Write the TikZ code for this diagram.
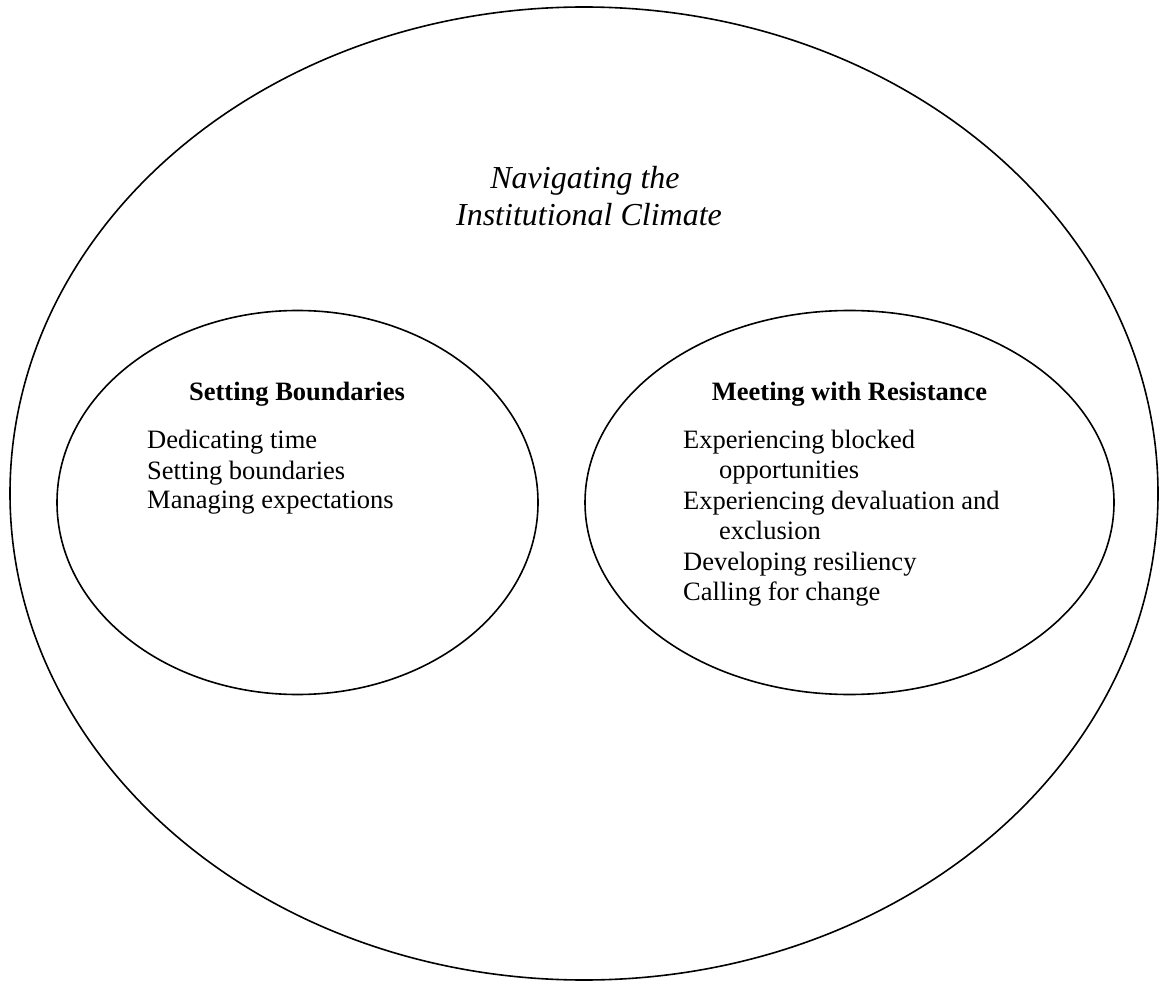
\documentclass[tikz,border=0pt]{standalone}
\usepackage{fontspec}
\setmainfont{Liberation Serif}
\usetikzlibrary{shapes.geometric}
\tikzset{
  ring/.style={draw, ellipse, line width=1.6pt, inner sep=0pt},
  bodytext/.style={font=\fontsize{26.5}{30.4}\selectfont, inner sep=0pt, anchor=base west},
  headtext/.style={font=\fontsize{26.5}{30.4}\selectfont\bfseries, inner sep=0pt, anchor=base},
  maintitle/.style={font=\fontsize{32}{37}\selectfont\itshape, inner sep=0pt, anchor=base}
}
\begin{document}
\begin{tikzpicture}[x=1pt,y=-1pt]
\useasboundingbox (0,0) rectangle (1162,981);
% ellipses
\node[ring, minimum width=1148pt, minimum height=973pt] (outer) at (584,493.5) {};
\node[ring, minimum width=481pt, minimum height=384pt] (leftring) at (297.5,502.5) {};
\node[ring, minimum width=529pt, minimum height=384pt] (rightring) at (849.5,502.5) {};
% main title
\node[maintitle] (t1) at (585,189) {Navigating the};
\node[maintitle] (t2) at (589,226) {Institutional Climate};
% left group
\node[headtext] (lh) at (297,401) {Setting Boundaries};
\node[bodytext] (l1) at (147,449) {Dedicating time};
\node[bodytext] (l2) at (147,479) {Setting boundaries};
\node[bodytext] (l3) at (147,508.5) {Managing expectations};
% right group
\node[headtext] (rh) at (849.5,401) {Meeting with Resistance};
\node[bodytext] (r1) at (683,448) {Experiencing blocked};
\node[bodytext] (r2) at (719,478.5) {opportunities};
\node[bodytext] (r3) at (683,509) {Experiencing devaluation and};
\node[bodytext] (r4) at (719,539.5) {exclusion};
\node[bodytext] (r5) at (683,570) {Developing resiliency};
\node[bodytext] (r6) at (683,600.5) {Calling for change};
\end{tikzpicture}
\end{document}
